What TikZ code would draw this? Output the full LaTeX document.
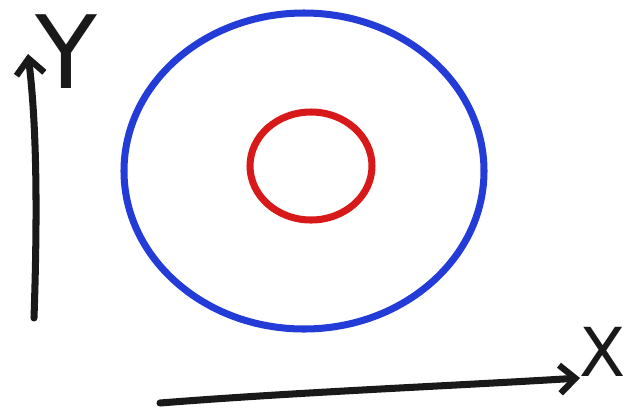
\documentclass[tikz,border=0pt]{standalone}
\usepackage{fontspec}
\setsansfont{DejaVu Sans}
\usetikzlibrary{arrows.meta, positioning}

\definecolor{chalkblue}{RGB}{35,60,215}
\definecolor{chalkred}{RGB}{215,25,25}
\definecolor{chalkblack}{RGB}{25,25,25}

\begin{document}
\begin{tikzpicture}[
  x=0.025cm, y=-0.025cm,
  axis/.style={-{Straight Barb[length=11pt, width=20pt, line width=4.5pt]},
               line width=5pt, chalkblack, line cap=round, line join=round},
  ring/.style={line width=5pt, line cap=round},
  lbl/.style={font=\sffamily\fontsize{72}{72}\selectfont,
              text=chalkblack, inner sep=0pt}
]
\useasboundingbox (0,0) rectangle (626,410);

% Axes
\coordinate (yfoot) at (34,318);
\coordinate (ytip)  at (28,54);
\coordinate (xfoot) at (160,403);
\coordinate (xtip)  at (580,378);
\draw[axis] (yfoot) .. controls (38,200) and (36,120) .. (ytip);
\draw[axis] (xfoot) .. controls (300,392) and (450,386) .. (xtip);

% Axis letters
\node[lbl] (ylbl) at (66,52) {Y};
\node[lbl, anchor=east, font=\sffamily\fontsize{48}{48}\selectfont]
  (xlbl) at (626,352) {X};

% Outer ring
\draw[ring, chalkblue] (304,171) ellipse [x radius=180, y radius=158];

% Inner ring
\draw[ring, chalkred] (311,166) ellipse [x radius=61, y radius=54];

\end{tikzpicture}
\end{document}
